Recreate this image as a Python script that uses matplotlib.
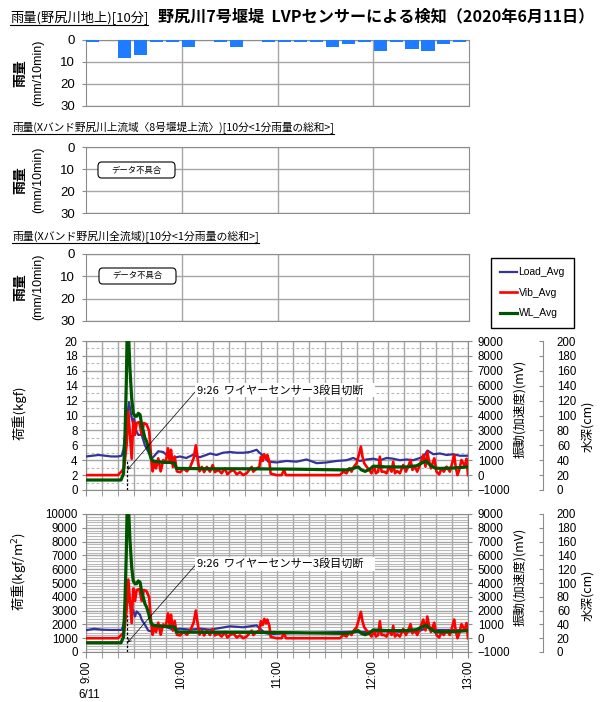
import numpy as np
import matplotlib
matplotlib.use("Agg")
import matplotlib.pyplot as plt
from matplotlib.ticker import MultipleLocator
from matplotlib.patches import FancyBboxPatch
from matplotlib.lines import Line2D

plt.rcParams["font.family"] = ["Liberation Sans", "Noto Sans CJK JP"]
JP = ["Noto Sans CJK JP", "DejaVu Sans"]

# ---------------- data ----------------
# ground rain gauge, 10-minute totals from 9:00 to 13:00 (mm/10min)
rain_ground = [1, 0, 8, 7, 1, 1, 3, 0, 1, 3, 0, 1,
               1, 1, 1, 3, 2, 1, 5, 1, 4, 5, 2, 1]

hour_labels = ["9:00", "10:00", "11:00", "12:00", "13:00"]
cut_minute = 26  # 9:26 wire sensor cut

# Load_Avg in kgf (minutes after 9:00)
load_t = [0, 4, 8, 12, 16, 20, 22.4, 23.5, 25.5, 27, 28, 29.3, 30.3, 31.4, 32.9, 35,
          37, 39.2, 41.3, 43.4, 45.4, 48.5, 51.7, 54.8, 59, 63, 67, 71.5, 75.5, 78,
          82, 86, 90.5, 94.7, 98.8, 103, 107.2, 109, 111.4, 114.5, 119.8, 126, 132.3,
          138.6, 144.9, 151.2, 157.5, 163.7, 167.9, 172.1, 176.3, 180.5, 184.7, 188.9,
          193, 197.2, 201.4, 205.6, 209.8, 212.5, 214.5, 218.2, 222.4, 226.6, 230.7,
          234.9, 240]
load_kgf = [4.5, 4.6, 4.7, 4.6, 4.5, 4.5, 4.6, 5.4, 9.2, 11.8, 10.5, 9.1, 9.6, 8.0, 7.4, 7.4,
            6.0, 5.1, 4.2, 4.7, 5.2, 5.1, 4.5, 4.3, 4.5, 4.3, 4.7, 4.4, 4.7, 4.9,
            4.7, 5.0, 5.1, 5.0, 5.0, 5.1, 5.4, 5.0, 4.6, 3.8, 3.7, 3.9, 3.8,
            4.1, 3.6, 3.7, 3.9, 4.0, 4.3, 3.9, 4.1, 4.2, 4.0, 4.3,
            4.2, 4.0, 4.1, 4.0, 4.3, 4.6, 5.3, 4.8, 4.9, 4.7, 4.8,
            4.6, 4.6]

# Load_Avg in kgf/m2
press_t = [0, 5, 10, 16, 22.5, 23.5, 25.5, 26.6, 27.6, 29.7, 30.8, 31.8, 33.9, 35, 37,
           39.2, 41.2, 43.3, 46.5, 50.7, 54.9, 59.1, 65.3, 71.6, 78, 84.2, 90.5, 98.8,
           107.2, 109.3, 112.5, 115.6, 130.3, 140.7, 151.2, 162.7, 175, 190, 200, 210,
           215, 220, 230, 240]
press_kgfm2 = [1580, 1680, 1620, 1600, 1600, 1980, 3430, 4030, 3430, 2990, 2580, 2940, 2700, 2340, 1980,
               1545, 1500, 1790, 1930, 1790, 1620, 1690, 1620, 1690, 1620, 1740, 1860, 1790,
               1930, 1690, 1375, 1300, 1375, 1375, 1420, 1450, 1450, 1500, 1450, 1550,
               1800, 1600, 1600, 1550]

# Vib_Avg in mV
vib_t = [0, 20, 22.4, 23.9, 25.5, 26.6, 27.6, 28.7, 29.7, 30.8,
         31.8, 33.5, 35, 36.4, 38.1, 39.7, 40.8, 41.9, 42.8, 44,
         45.4, 46.9, 48.5, 50.2, 51.5, 52.5, 53.4, 54.6, 55.7, 57.1,
         59.2, 61.3, 63.4, 65.5, 67.6, 69, 70.1, 71.3, 72.8, 74.2,
         75.9, 77.9, 79.6, 81, 83.1, 85.2, 87.3, 88.8, 90.5, 92.6,
         94.7, 96.7, 98.8, 100.9, 102.6, 104.1, 105.1, 107.2, 108.9, 109.9,
         111, 112, 113.1, 113.9, 115.2, 116, 119.8, 122.9, 124.4, 125.6,
         159.5, 161.6, 163.7, 165.4, 166.8, 168.3, 170, 171.4, 172.7, 173.7,
         174.8, 176.3, 177.9, 179.4, 181.1, 182.1, 183.6, 184.6, 185.7, 187.4,
         188.8, 190.5, 192, 193, 194.1, 195.5, 197.2, 199.3, 201, 202.4,
         203.9, 205.1, 206.6, 208.1, 209.8, 210.8, 211.9, 213.3, 214.4, 215.6,
         216.7, 217.7, 218.8, 220.2, 221.9, 223.4, 224.8, 226.5, 228.6, 230.3,
         231.3, 232.4, 233.4, 234.5, 235.9, 237, 238, 239.1, 240]
vib_mv = [0, 0, 250, 450, 2000, 4250, 2700, 1100, 3600, 2700,
          3500, 3550, 2700, 3500, 3400, 2950, 1350, 250, 900, 450,
          1125, 250, 1000, 900, 1800, 1000, 1700, 550, 1250, 250,
          200, 450, 250, 550, 1125, 2000, 1125, 250, 550, 200,
          550, 230, 675, 200, 345, 120, 450, 50, 230, 345,
          50, 200, 0, 120, 345, 550, 230, 450, 550, 1235,
          950, 1400, 1075, 1350, 900, 100, 0, 0, 350, 0,
          0, 230, 120, 455, 230, 565, 790, 1350, 1910, 1235,
          790, 565, 345, 120, 565, 120, 230, 1235, 230, 230,
          120, 565, 230, 900, 120, 275, 120, 680, 230, 565,
          1015, 345, 565, 230, 680, 1015, 1350, 565, 1570, 900,
          455, 790, 1125, 230, 50, 455, 230, 565, 230, 900,
          1350, 455, 0, 345, 1015, 790, 565, 1100, 0]

# WL_Avg, water depth in cm
wl_t = [0, 22, 23.6, 24.5, 25.3, 25.8, 26.8, 27.6, 28.7, 29.7,
        30.8, 31.8, 32.9, 34, 35, 36, 37, 38.1, 39.3, 40.8,
        42, 45, 48.5, 52.6, 55.7, 56.7, 78, 100, 130, 159.5,
        163.7, 167.9, 171, 173, 175.4, 178.3, 180.5, 188.9, 201.4, 207.7,
        210.8, 213.6, 216, 219.2, 222.4, 230.7, 240]
wl_cm = [13.4, 13.4, 22, 74, 141, 205, 205, 163, 123, 103,
         99, 99, 103, 101, 87, 79, 70, 65, 56, 42.5,
         39, 38, 37, 37, 36, 29, 28.5, 28.5, 28, 27,
         27, 29, 31, 27, 25, 28, 32, 31, 31, 32.5,
         36, 39, 34, 29.5, 29, 29.5, 31]

# ---------------- styling ----------------
BAR = "#1f7bff"
C_LOAD = "#333399"
C_VIB = "#ff0000"
C_WL = "#005400"
GRID = "#a6a6a6"
FRAME = "#8c8c8c"

W, H = 607, 702
fig = plt.figure(figsize=(W / 100, H / 100), dpi=100)
fig.patch.set_facecolor("white")


def frame(l, t, r, b):
    return [l / W, 1 - b / H, (r - l) / W, (b - t) / H]


def fx(px):
    return px / W


def fy(py):
    return 1 - py / H


slot_start = np.arange(0, 240, 10)


def rain_panel(box, values=None):
    ax = fig.add_axes(frame(*box))
    ax.set_xlim(0, 240)
    ax.set_ylim(30, 0)
    if values is not None:
        ax.bar(slot_start + 0.2, values, width=8.2, align="edge", color=BAR, zorder=3)
    ax.set_yticks([0, 10, 20, 30])
    ax.set_xticks([60, 120, 180])
    ax.grid(True, color=GRID, lw=1.0)
    ax.set_axisbelow(True)
    ax.tick_params(axis="x", length=0, labelbottom=False)
    ax.tick_params(axis="y", length=3, width=0.8, color=FRAME, labelsize=9.5, pad=5)
    for sp in ax.spines.values():
        sp.set_color(FRAME)
    return ax


def rain_ylabel(yc):
    fig.text(fx(20), fy(yc), "雨量", rotation=90, ha="center", va="center",
             fontsize=10, weight="bold", family=JP)
    fig.text(fx(38), fy(yc), "(mm/10min)", rotation=90, ha="center", va="center",
             fontsize=9)


def note_box(l, t, r, b):
    box = FancyBboxPatch((fx(l), fy(b)), fx(r) - fx(l), fy(t) - fy(b),
                         boxstyle="round,pad=0,rounding_size=0.006",
                         transform=fig.transFigure, fc="white", ec="black", lw=0.8,
                         zorder=10)
    fig.add_artist(box)
    fig.text(fx((l + r) / 2), fy((t + b) / 2), "データ不具合", ha="center", va="center",
             fontsize=6, family=JP, zorder=11)


headings = []


def heading(x, y, s, size):
    t = fig.text(fx(x), fy(y), s, ha="left", va="baseline", fontsize=size, family=JP)
    headings.append(t)


def sensor_panel(box, left_lim, left_major, left_minor, minor_dashed):
    ax = fig.add_axes(frame(*box))
    ax.set_xlim(0, 240)
    ax.set_ylim(*left_lim)
    ax.yaxis.set_major_locator(MultipleLocator(left_major))
    ax.yaxis.set_minor_locator(MultipleLocator(left_minor))
    ax.xaxis.set_major_locator(MultipleLocator(60))
    ax.xaxis.set_minor_locator(MultipleLocator(10))
    ax.grid(which="both", axis="x", color=GRID, lw=1.0)
    ax.grid(which="major", axis="y", color=GRID, lw=1.0)
    if minor_dashed:
        ax.grid(which="minor", axis="y", color="#b8b8b8", lw=0.8, ls=(0, (2.5, 2)))
    else:
        ax.grid(which="minor", axis="y", color="#b8b8b8", lw=0.8)
    ax.tick_params(axis="y", which="major", length=3, color=FRAME, labelsize=8.3, pad=3)
    ax.tick_params(axis="y", which="minor", length=0)
    ax.tick_params(axis="x", which="both", length=4, color=FRAME, labelbottom=False)
    for sp in ax.spines.values():
        sp.set_color(FRAME)
    ax.spines["right"].set_visible(False)

    axv = ax.twinx()
    axv.set_ylim(-1000, 9000)
    axv.yaxis.set_major_locator(MultipleLocator(1000))
    axv.tick_params(axis="y", length=3, color=FRAME, labelsize=8.3, pad=4)
    axw = ax.twinx()
    axw.set_ylim(0, 200)
    axw.yaxis.set_major_locator(MultipleLocator(20))
    axw.spines["right"].set_position(("outward", 54))
    axw.tick_params(axis="y", direction="in", length=3, color=FRAME, labelsize=8.3, pad=10)
    for a in (axv, axw):
        for k in ("left", "top", "bottom"):
            a.spines[k].set_visible(False)
        a.spines["right"].set_color(FRAME)
    return ax, axv, axw


# ---------------- rain panels ----------------
fig.text(fx(158), fy(16), "野尻川7号堰堤  LVPセンサーによる検知（2020年6月11日）",
         ha="left", va="center", fontsize=11.6, weight="bold", family=JP)

heading(10, 22, "雨量(野尻川地上)[10分]", 9.5)
rain_panel((86, 40, 469, 106), rain_ground)
rain_ylabel(73)

heading(12, 131, "雨量(Xバンド野尻川上流域〈8号堰堤上流〉)[10分<1分雨量の総和>]", 7.7)
rain_panel((86, 147, 469, 213))
rain_ylabel(180)
note_box(98, 162, 175, 178)

heading(12, 240, "雨量(Xバンド野尻川全流域)[10分<1分雨量の総和>]", 7.8)
rain_panel((86, 254, 469, 321))
rain_ylabel(287)
note_box(99, 268, 176, 284)

# ---------------- sensor panels ----------------
note_text = "9:26  ワイヤーセンサー3段目切断    "
arrow = dict(arrowstyle="->,head_length=0.3,head_width=0.15", lw=0.5, color="black",
             shrinkA=0, shrinkB=0, relpos=(0, 0.5))
text_box = dict(boxstyle="square,pad=0.15", fc="white", ec="none")

ax4, ax4v, ax4w = sensor_panel((86, 341, 468, 490), (0, 20), 2, 1, True)
ax4.vlines(cut_minute, 0, 4.0, colors="black", lw=0.9, linestyles=(0, (2, 1.5)), zorder=2)
l_load, = ax4.plot(load_t, load_kgf, color=C_LOAD, lw=1.6, zorder=3)
l_vib, = ax4v.plot(vib_t, vib_mv, color=C_VIB, lw=1.9)
l_wl, = ax4w.plot(wl_t, wl_cm, color=C_WL, lw=2.3)
ax4w.annotate(note_text, xy=(cut_minute, 27), xytext=(69.5, 134),
              ha="left", va="center", fontsize=8, family=JP,
              bbox=text_box, arrowprops=arrow, zorder=20)

ax5, ax5v, ax5w = sensor_panel((86, 514, 468, 652), (0, 10000), 1000, 200, False)
ax5.vlines(cut_minute, 0, 2700, colors="black", lw=0.9, linestyles=(0, (2, 1.5)), zorder=2)
ax5.plot(press_t, press_kgfm2, color=C_LOAD, lw=1.6, zorder=3)
ax5v.plot(vib_t, vib_mv, color=C_VIB, lw=1.9)
ax5w.plot(wl_t, wl_cm, color=C_WL, lw=2.3)
ax5w.annotate(note_text, xy=(cut_minute, 13.5), xytext=(69.5, 128),
              ha="left", va="center", fontsize=8, family=JP,
              bbox=text_box, arrowprops=arrow, zorder=20)
ax5.set_xticks(np.arange(0, 241, 60))
ax5.set_xticklabels(hour_labels, rotation=90, va="top", ha="center")
ax5.tick_params(axis="x", which="major", labelbottom=True, labelsize=8.3, pad=2)

# axis titles
fig.text(fx(19), fy(413), "荷重(kgf)", rotation=90, ha="center", va="center", fontsize=9.5, family=JP)
fig.text(fx(19), fy(572), "荷重(kgf/m$^2$)", rotation=90, ha="center", va="center", fontsize=9.5, family=JP)
for yc_v, yc_w in ((409, 426), (577, 595)):
    fig.text(fx(520), fy(yc_v), "振動(加速度)(mV)", rotation=90, ha="center", va="center",
             fontsize=9, family=JP)
    fig.text(fx(588), fy(yc_w), "水深(cm)", rotation=90, ha="center", va="center",
             fontsize=9, family=JP)
fig.text(fx(89), fy(695), "6/11", ha="center", va="center", fontsize=8.3)

# legend
fig.legend([l_load, l_vib, l_wl], ["Load_Avg", "Vib_Avg", "WL_Avg"],
           loc="upper left", bbox_to_anchor=(fx(491), fy(258)), borderaxespad=0,
           frameon=True, fancybox=False, edgecolor="black", framealpha=1,
           fontsize=7.5, handlelength=1.6, handletextpad=0.15,
           labelspacing=1.0, borderpad=0.9)

# underline the section headings
fig.canvas.draw()
renderer = fig.canvas.get_renderer()
for t in headings:
    bb = t.get_window_extent(renderer)
    base_y = t.get_position()[1] * fig.bbox.height - 2.5
    fig.add_artist(Line2D([bb.x0 / fig.bbox.width, bb.x1 / fig.bbox.width],
                          [base_y / fig.bbox.height] * 2,
                          transform=fig.transFigure, color="black", lw=0.8))

fig.savefig("out.png", dpi=100)
